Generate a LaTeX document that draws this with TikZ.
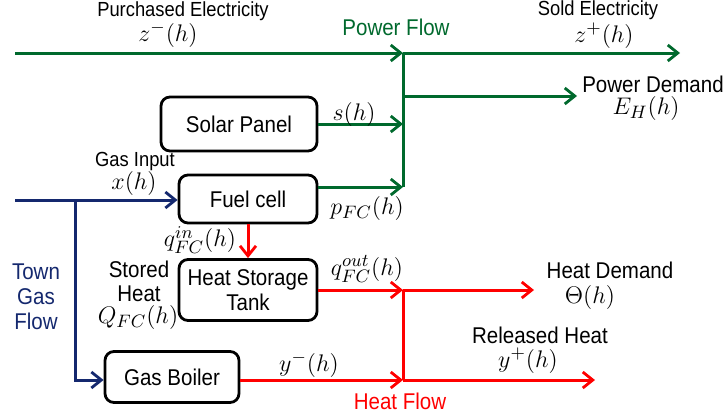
\documentclass[tikz,border=0pt]{standalone}
\usepackage{fontspec}
\setsansfont{Liberation Sans}[FakeStretch=0.9]
\usetikzlibrary{arrows.meta}

\definecolor{pwrgreen}{RGB}{0,105,45}
\definecolor{gasblue}{RGB}{20,40,110}
\definecolor{heatred}{RGB}{255,0,0}

\begin{document}
\begin{tikzpicture}[
  x=0.5pt, y=-0.5pt,
  font=\sffamily,
  box/.style={
    draw, rounded corners=4.5pt, align=center, inner sep=2pt,
    line width=1.4pt, font=\sffamily\fontsize{11.4}{12.5}\selectfont,
  },
  lbl/.style={inner sep=0pt, font=\sffamily\fontsize{10.2}{11}\selectfont},
  flowlbl/.style={inner sep=0pt, font=\sffamily\fontsize{11.4}{12.5}\selectfont},
  mlbl/.style={inner sep=0pt, font=\fontsize{12.8}{14}\selectfont},
  flow/.style={line width=1.5pt, -{Straight Barb[length=5pt, width=8pt, line width=1.4pt]}},
  gline/.style={line width=1.5pt, draw=pwrgreen},
  bline/.style={line width=1.5pt, draw=gasblue},
  rline/.style={line width=1.5pt, draw=heatred},
]
\useasboundingbox (0,0) rectangle (724,418);

% ---- Devices -------------------------------------------------------------
\node[box, minimum width=78pt, minimum height=27pt] (solar)  at (239,124) {Solar Panel};
\node[box, minimum width=69pt, minimum height=24pt] (fuel)   at (248,199) {Fuel cell};
\node[box, minimum width=69pt, minimum height=30.5pt] (tank) at (248,290) {Heat Storage\\Tank};
\node[box, minimum width=67pt, minimum height=25.5pt] (boiler) at (172,377) {Gas Boiler};

% ---- Free ends and junctions --------------------------------------------
\coordinate (grid)   at (15,53);
\coordinate (pj)     at (403,53);
\coordinate (sold)   at (680,53);
\coordinate (demand) at (577,96);
\coordinate (gasin)  at (15,200);
\coordinate (split)  at (75,200);
\coordinate (hj)     at (403,290);
\coordinate (hdem)   at (534,290);
\coordinate (rel)    at (595,380);
\coordinate (fcout)  at ([yshift=6pt]fuel.east);

% ---- Power flow ----------------------------------------------------------
\draw[gline, flow] (grid) -- (pj);
\draw[gline, flow] (pj) -- (sold);
\draw[gline] (pj) -- (pj |- fcout);
\draw[gline, flow] (pj |- demand) -- (demand);
\draw[gline, flow] (solar.east) -- (solar.east -| pj);
\draw[gline, flow] (fcout) -- (fcout -| pj);

% ---- Town gas ------------------------------------------------------------
\draw[bline, flow] (gasin) -- (gasin -| fuel.west);
\draw[bline, flow] (split) |- ([yshift=-1.5pt]boiler.west);

% ---- Heat flow -----------------------------------------------------------
\draw[rline, flow] (fuel.south) -- (tank.north);
\draw[rline, flow] (tank.east) -- (hj);
\draw[rline, flow] (hj) -- (hdem);
\draw[rline] (hj) -- (hj |- rel);
\draw[rline, flow] ([yshift=-1.5pt]boiler.east) -- (hj |- rel);
\draw[rline, flow] (hj |- rel) -- (rel);

% ---- Labels --------------------------------------------------------------
\node[lbl] (purch) at (183,11) {Purchased Electricity};
\node[mlbl] (zminus) at (168,35) {$z^{-}(h)$};
\node[flowlbl, text=pwrgreen] (pflow) at (396,27) {Power Flow};
\node[lbl] (soldl) at (598,10) {Sold Electricity};
\node[mlbl] (zplus) at (604,36) {$z^{+}(h)$};
\node[flowlbl] (pdem) at (653,84) {Power Demand};
\node[mlbl] (eh) at (646,108) {$E_H(h)$};
\node[mlbl] (sh) at (354,114) {$s(h)$};
\node[mlbl] (pfc) at (367,208) {$p_{FC}(h)$};
\node[lbl] (gasinl) at (135,161) {Gas Input};
\node[mlbl] (xh) at (134,183) {$x(h)$};
\node[mlbl] (qin) at (200,240) {$q_{FC}^{in}(h)$};
\node[mlbl] (qout) at (367,269) {$q_{FC}^{out}(h)$};
\node[flowlbl, align=center, font=\sffamily\fontsize{11.4}{12}\selectfont] (stored) at (139,281) {Stored\\Heat};
\node[mlbl] (qfc) at (138,317) {$Q_{FC}(h)$};
\node[flowlbl, align=center, text=gasblue, font=\sffamily\fontsize{11.4}{12.5}\selectfont] (town) at (36,297) {Town\\Gas\\Flow};
\node[flowlbl] (hdeml) at (610,270) {Heat Demand};
\node[mlbl] (theta) at (590,297) {$\Theta(h)$};
\node[flowlbl] (relh) at (540,335) {Released Heat};
\node[mlbl] (yplus) at (528,361) {$y^{+}(h)$};
\node[mlbl] (yminus) at (309,365) {$y^{-}(h)$};
\node[flowlbl, text=heatred] (hflow) at (400,401) {Heat Flow};

\end{tikzpicture}
\end{document}
